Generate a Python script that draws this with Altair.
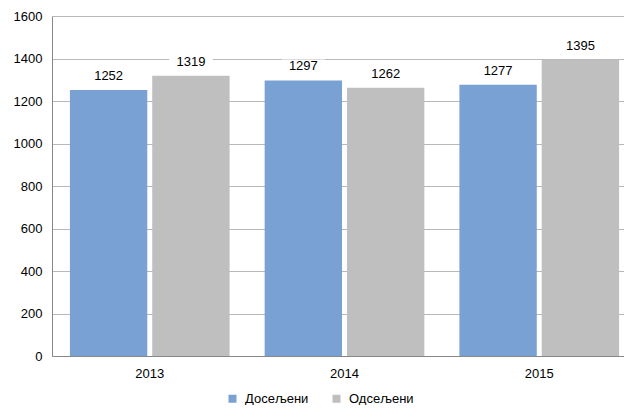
import altair as alt
import pandas as pd

years = ["2013", "2014", "2015"]
series = ["Досељени", "Одсељени"]
doseljeni = [1252, 1297, 1277]
odseljeni = [1319, 1262, 1395]
colors = ["#7AA1D3", "#BFBFBF"]

rows = []
for i, y in enumerate(years):
    rows.append({"year": y, "series": series[0], "value": doseljeni[i]})
    rows.append({"year": y, "series": series[1], "value": odseljeni[i]})
df = pd.DataFrame(rows)

FONT = "Liberation Sans"

x = alt.X("year:N", title=None, sort=years,
          scale=alt.Scale(paddingInner=0.18, paddingOuter=0.092, range=[0, 585]),
          axis=alt.Axis(labelAngle=0, ticks=False, domain=True, domainColor="#888888", grid=False,
                        labelPadding=11, labelFont=FONT, labelFontSize=13, labelColor="#000000"))
y = alt.Y("value:Q", title=None,
          scale=alt.Scale(domain=[0, 1600]),
          axis=alt.Axis(values=[0, 200, 400, 600, 800, 1000, 1200, 1400, 1600], ticks=False,
                        format="d", grid=True,
                        domain=True, domainColor="#888888", gridColor="#B8B8B8",
                        labelPadding=10, labelFont=FONT, labelFontSize=13, labelColor="#000000"))
xo = alt.XOffset("series:N", sort=series, scale=alt.Scale(paddingInner=0.06))
color = alt.Color("series:N", sort=series, scale=alt.Scale(domain=series, range=colors),
                  legend=alt.Legend(title=None, orient="none", direction="horizontal",
                                    legendX=174, legendY=376, padding=0,
                                    symbolType="square", symbolSize=64, symbolStrokeWidth=0,
                                    labelFont=FONT, labelFontSize=13, labelColor="#000000",
                                    columnPadding=21, labelOffset=6))

bars = alt.Chart(df).mark_bar().encode(x=x, y=y, xOffset=xo, color=color)

bg = alt.Chart(df).mark_point(
    shape="M-1,-0.32H1V0.32H-1Z", filled=True, fill="white", opacity=1, size=1900, yOffset=-14
).encode(x=x, y=y, xOffset=xo)

labels = alt.Chart(df).mark_text(
    font=FONT, fontSize=13, color="#000000", baseline="middle", dy=-14
).encode(x=x, y=y, xOffset=xo, text="value:Q")

chart = alt.layer(bars, bg, labels).properties(
    width=572, height=340,
    autosize=alt.AutoSizeParams(type="none"),
    padding={"left": 44, "top": 8, "right": 0, "bottom": 49},
).configure_view(stroke=None)

chart.save("out.html", embed_options={"renderer": "svg", "actions": False})
